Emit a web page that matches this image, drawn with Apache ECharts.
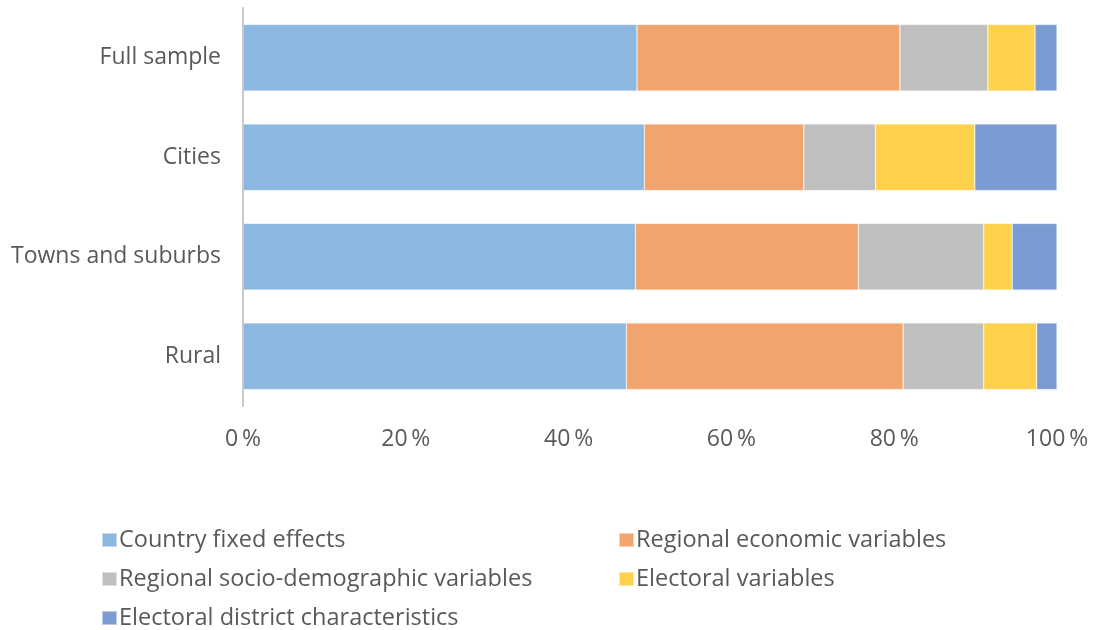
<!DOCTYPE html>
<html>
<head>
<meta charset="utf-8">
<script src="https://cdn.jsdelivr.net/npm/echarts@6/dist/echarts.min.js"></script>
<style>
html,body{margin:0;padding:0;background:#fff;}
#chart{width:1096px;height:630px;}
</style>
</head>
<body>
<div id="chart"></div>
<script>
const categories = ['Full sample', 'Cities', 'Towns and suburbs', 'Rural'];
const seriesNames = ['Country fixed effects', 'Regional economic variables', 'Regional socio-demographic variables', 'Electoral variables', 'Electoral district characteristics'];
const countryFixed = [48.4, 49.3, 48.2, 47.1];
const regionalEconomic = [32.3, 19.6, 27.4, 34.0];
const regionalSocio = [10.8, 8.8, 15.4, 9.9];
const electoralVars = [5.8, 12.2, 3.5, 6.5];
const districtChars = [2.7, 10.1, 5.5, 2.5];
const colors = ['#8CB7E0', '#F2A46F', '#BFBFBF', '#FED14C', '#7B9BD3'];
const xTicks = [0, 20, 40, 60, 80, 100];

const values = [countryFixed, regionalEconomic, regionalSocio, electoralVars, districtChars];
const FONT = 'Open Sans';
const TXT = '#595959';

const chart = echarts.init(document.getElementById('chart'), null, {renderer: 'canvas'});
const series = seriesNames.map((name, i) => ({
  name: name,
  type: 'bar',
  stack: 'total',
  barCategoryGap: '33%',
  itemStyle: {color: colors[i], borderColor: 'rgba(255,255,255,0.5)', borderWidth: 0.6},
  emphasis: {disabled: true},
  data: values[i]
}));

const legendCommon = {
  orient: 'vertical',
  icon: 'rect',
  itemWidth: 15,
  itemHeight: 14,
  itemGap: 15,
  height: 102,
  textStyle: {fontFamily: FONT, fontSize: 23.5, lineHeight: 23.5, color: TXT, padding: [0, 0, 0, -3]},
  selectedMode: false,
  padding: 0
};

chart.setOption({
  animation: false,
  color: colors,
  grid: {left: 243, right: 39, top: 8, bottom: 224, containLabel: false},
  xAxis: {
    type: 'value',
    min: 0,
    max: 100,
    interval: 20,
    axisLine: {show: false},
    axisTick: {show: false},
    splitLine: {show: false},
    axisLabel: {
      margin: 22,
      fontFamily: FONT, fontSize: 23, color: TXT,
      formatter: v => xTicks.includes(v) ? v + '\u2009%' : ''
    }
  },
  yAxis: {
    type: 'category',
    inverse: true,
    data: categories,
    axisLine: {show: true, lineStyle: {color: '#C8C8C8', width: 2}},
    axisTick: {show: false},
    axisLabel: {margin: 22, fontFamily: FONT, fontSize: 23, color: TXT}
  },
  legend: [
    Object.assign({}, legendCommon, {left: 101, top: 528, data: [seriesNames[0], seriesNames[2], seriesNames[4]]}),
    Object.assign({}, legendCommon, {left: 618, top: 528, data: [seriesNames[1], seriesNames[3]]})
  ],
  series: series
});
</script>
</body>
</html>
